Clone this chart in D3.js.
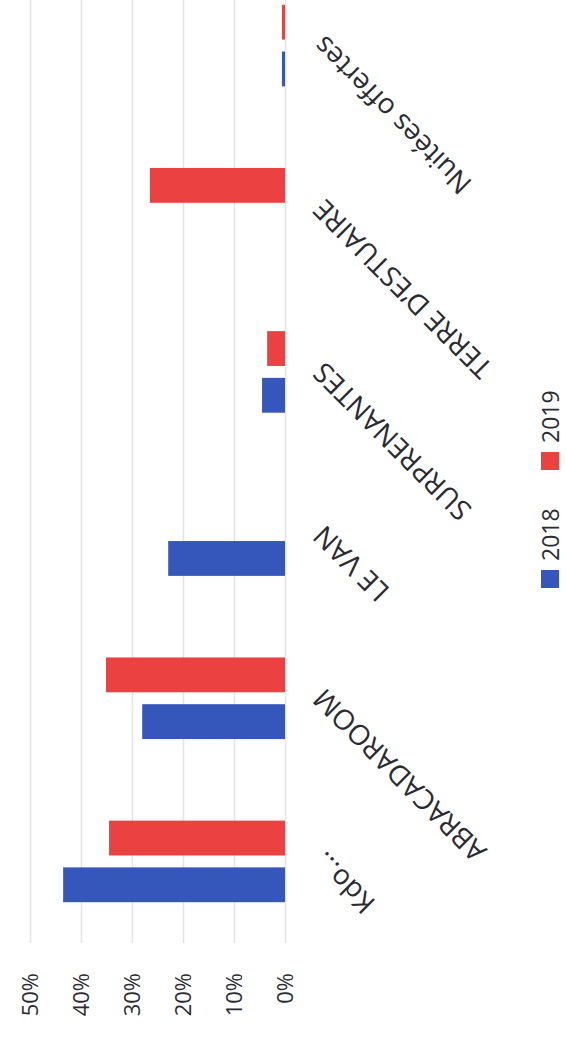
<!DOCTYPE html>
<html>
<head>
<meta charset="utf-8">
<script src="https://cdn.jsdelivr.net/npm/d3@7"></script>
<style>
  body { margin: 0; background: #fff; }
  text { font-family: "Open Sans", "Liberation Sans", sans-serif; fill: #2b2b33; }
</style>
</head>
<body>
<div id="wrapper"></div>
<script>
const categories = ["Kdo\u2026", "ABRACADAROOM", "LE VAN", "SURPRENANTES", "TERRE D\u2019ESTUAIRE", "Nuitées offertes"]
const seriesNames = ["2018", "2019"]
const values2018 = [0.435, 0.28, 0.229, 0.045, 0, 0.006]
const values2019 = [0.345, 0.351, 0, 0.035, 0.265, 0.006]
const tickValues = [0, 0.1, 0.2, 0.3, 0.4, 0.5]
const colors = ["#3556bb", "#ec4141"]

function drawChart() {
    const width = 567
    const height = 1040

    // the chart is drawn upright (1040 wide, 567 tall) then turned a quarter left
    let dims = {
        plotLeft: 97,
        plotRight: 1076,
        plotTop: 30,
        baseline: 285
    }

    const rows = categories.map((c, i) => ({
        category: c,
        values: [values2018[i], values2019[i]]
    }))

    const svg = d3.select('#wrapper')
        .append('svg')
        .attr('width', width)
        .attr('height', height)

    const chart = svg.append('g')
        .attr('transform', `translate(0, ${height}) rotate(-90)`)

    const x0 = d3.scaleBand()
        .domain(categories)
        .range([dims.plotLeft, dims.plotRight])
        .paddingInner(0.5)
        .paddingOuter(0.25)

    const x1 = d3.scaleBand()
        .domain(seriesNames)
        .range([0, x0.bandwidth()])
        .paddingInner(0.255)

    const y = d3.scaleLinear()
        .domain([0, 0.5])
        .range([dims.baseline, dims.plotTop])

    const yAxis = d3.axisLeft(y)
        .tickValues(tickValues)
        .tickFormat(d3.format(".0%"))
        .tickSize(-(dims.plotRight - dims.plotLeft))
        .tickPadding(30)

    const axisG = chart.append('g')
        .attr('transform', `translate(${dims.plotLeft}, 0)`)
        .call(yAxis)
    axisG.select('.domain').remove()
    axisG.selectAll('.tick line')
        .attr('stroke', '#e4e4e8')
        .attr('stroke-width', 1.5)
    axisG.selectAll('.tick text')
        .attr('font-size', 22)
        .attr('fill', '#2b2b33')
        .attr('dy', '0.36em')
        .attr('x', -30)

    const groups = chart.selectAll('.cat')
        .data(rows)
        .join('g')
        .attr('class', 'cat')
        .attr('transform', d => `translate(${x0(d.category)}, 0)`)

    groups.selectAll('rect')
        .data(d => d.values.map((v, i) => ({ series: seriesNames[i], value: v, i })))
        .join('rect')
        .filter(d => d.value > 0)
        .attr('x', d => x1(d.series))
        .attr('y', d => y(d.value))
        .attr('width', x1.bandwidth())
        .attr('height', d => y(0) - y(d.value))
        .attr('fill', d => colors[d.i])

    // category labels, slanted
    chart.selectAll('.cat-label')
        .data(categories)
        .join('text')
        .attr('class', 'cat-label')
        .attr('text-anchor', 'end')
        .attr('font-size', 28)
        .attr('dy', '0.72em')
        .attr('transform', d => `translate(${x0(d) + x0.bandwidth() / 2 - 3}, ${dims.baseline + 26}) rotate(-45)`)
        .text(d => d)

    // legend
    const legend = chart.append('g')
        .attr('transform', `translate(452, 541)`)

    const items = legend.selectAll('.legend-item')
        .data(seriesNames)
        .join('g')
        .attr('class', 'legend-item')
        .attr('transform', (d, i) => `translate(${i * 118}, 0)`)

    items.append('rect')
        .attr('width', 18)
        .attr('height', 18)
        .attr('fill', (d, i) => colors[i])

    items.append('text')
        .attr('x', 27)
        .attr('y', 18)
        .attr('font-size', 23)
        .text(d => d)
}

drawChart()
</script>
</body>
</html>
